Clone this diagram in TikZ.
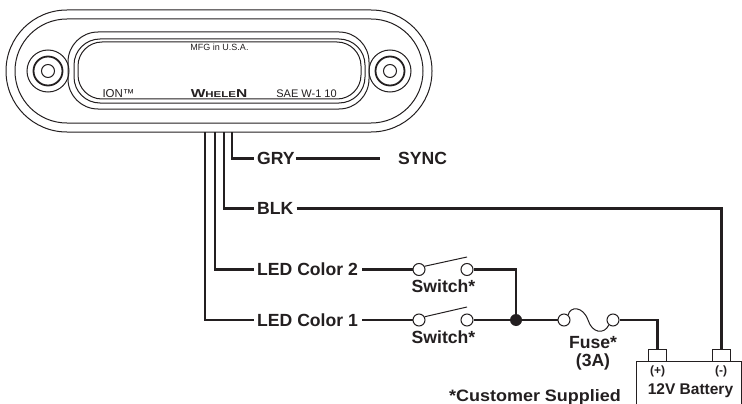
\documentclass[tikz,border=0pt]{standalone}
\usepackage{fontspec}
\setmainfont{Liberation Sans}
\definecolor{ink}{HTML}{231F20}
\tikzset{
  thin line/.style={draw=ink,line width=1pt},
  wire/.style={draw=ink,line width=2.5pt,line join=miter},
  lbl/.style={inner sep=0pt,text=ink,font=\fontsize{17.6}{19}\selectfont\bfseries},
  small/.style={inner sep=0pt,text=ink,font=\fontsize{11}{12}\selectfont},
  term/.style={circle,draw=ink,line width=1pt,fill=white,minimum size=12pt,inner sep=0pt},
  tbox/.style={draw=ink,line width=1pt,fill=white,inner sep=0pt,minimum width=17.5pt,minimum height=12pt},
}
\begin{document}
\begin{tikzpicture}[x=1pt,y=-1pt]
\useasboundingbox (0,0) rectangle (742,404);
% housing
\draw[thin line,rounded corners=60.9pt] (6,10) rectangle (432,132);
\draw[thin line,rounded corners=51.9pt] (15,19) rectangle (423,123);
% window
\draw[thin line,rounded corners=30pt] (68,32) rectangle (369,109);
\draw[thin line,rounded corners=26pt] (74,39) rectangle (365,103);
\draw[thin line,rounded corners=24pt] (78,42) rectangle (361,99);
% screws
\foreach \c in {48,390}{
  \draw[thin line] (\c,71) circle[radius=21];
  \draw[draw=ink,line width=1.8pt] (\c,71) circle[radius=14.5];
  \draw[thin line] (\c,71) circle[radius=6.5];
}
% printed text
\node[small,font=\fontsize{9}{10}\selectfont] (mfg) at (219.5,47) {MFG in U.S.A.};
\node[small,font=\fontsize{11.5}{12}\selectfont] (ion) at (118.5,94) {ION™};
\node[small] (sae) at (306.5,94) {SAE W-1 10};
\node[inner sep=0pt,text=ink] (whelen) at (219,93.5) {\scalebox{1.35}[1]{\bfseries\fontsize{11.5}{12}\selectfont W\fontsize{8.5}{12}\selectfont HELE\fontsize{11.5}{12}\selectfont N}};
% anchors
\coordinate (w1) at (205,132);
\coordinate (w2) at (215,132);
\coordinate (w3) at (224,132);
\coordinate (w4) at (232,132);
% labels
\node[lbl,anchor=west] (gry) at (257,158.5) {GRY};
\node[lbl,anchor=west] (sync) at (398,158.5) {SYNC};
\node[lbl,anchor=west] (blk) at (257,208.5) {BLK};
\node[lbl,anchor=west] (c2) at (257,269.5) {LED Color 2};
\node[lbl,anchor=west] (c1) at (257,320) {LED Color 1};
\node[lbl] (s2) at (443.5,286) {Switch*};
\node[lbl] (s1) at (443.5,337) {Switch*};
\node[lbl] (fuse) at (593,343) {Fuse*};
\node[lbl] (amp) at (593,362) {(3A)};
\node[lbl,font=\fontsize{15.5}{17}\selectfont\bfseries] (batt) at (690.5,391) {12V Battery};
\node[lbl,font=\fontsize{16.5}{18}\selectfont\bfseries] (cust) at (535,397) {\scalebox{1.09}[1]{*Customer Supplied}};
% battery
\draw[thin line] (636.5,404) |- (741.5,361.5) -- (741.5,404);
\node[tbox] (plus) at (657.5,355) {};
\node[tbox] (minus) at (721.5,355) {};
\node[lbl,font=\fontsize{12}{13}\selectfont\bfseries] (pl) at (657.5,371) {(+)};
\node[lbl,font=\fontsize{12}{13}\selectfont\bfseries] (mi) at (721,371) {(-)};
% switches and junction
\node[term] (a2) at (419,269.5) {};
\node[term] (b2) at (467,269.5) {};
\node[term] (a1) at (419,320) {};
\node[term] (b1) at (467,320) {};
\node[term] (f1) at (564,320) {};
\node[term] (f2) at (613,320) {};
\node[circle,fill=ink,minimum size=12pt,inner sep=0pt] (j) at (516,320) {};
% wires
\draw[wire] (w1) |- ([xshift=-3pt]c1.west);
\draw[wire] (w2) |- ([xshift=-3pt]c2.west);
\draw[wire] (w3) |- ([xshift=-3pt]blk.west);
\draw[wire] (w4) |- ([xshift=-3pt]gry.west);
\draw[wire] ([xshift=1pt]gry.east) -- ([xshift=-18pt]sync.west);
\draw[wire] ([xshift=3pt]blk.east) -| (minus.north);
\draw[wire] ([xshift=4pt]c2.east) -- (a2.west);
\draw[wire] ([xshift=4pt]c1.east) -- (a1.west);
\draw[wire] (b2.east) -| (j.north);
\draw[wire] (b1.east) -- (j.west);
\draw[wire] (j.east) -- (f1.west);
\draw[wire] (f2.east) -| (plus.north);
% levers
\draw[thin line] (a2.30) -- (467,257);
\draw[thin line] (a1.30) -- (467,307);
% fuse
\draw[thin line] (f1.50) .. controls (570,306) and (583,306) .. (588,320) .. controls (592,333) and (604,335) .. (f2.230);
\end{tikzpicture}
\end{document}
